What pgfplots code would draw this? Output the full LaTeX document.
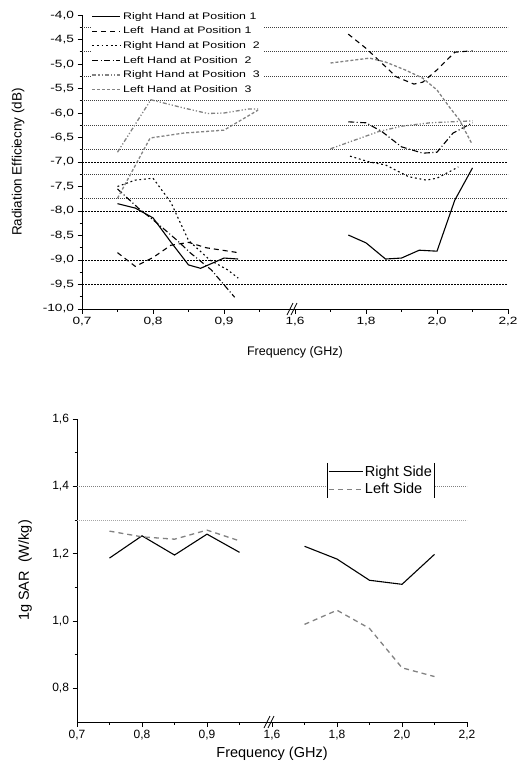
\documentclass[border=0pt]{standalone}
\usepackage{fontspec}
\setmainfont{Liberation Sans}
\newfontfamily\widefont[FakeStretch=1.3]{Liberation Sans}
\usepackage{pgfplots}
\pgfplotsset{compat=1.18}
\definecolor{lgray}{RGB}{130,130,130}

\pgfplotsset{
  brk/.style={
    scale only axis,
    clip=false,
    unbounded coords=jump,
    x coord trafo/.code={\pgfmathparse{ifthenelse(##1<1.3,(##1-0.7)*10,3+(##1-1.6)*5)}},
    xmin=0.7, xmax=2.2,
    xtick={0.7,0.8,0.9,1.6,1.8,2.0,2.2},
    xticklabels={{0,7},{0,8},{0,9},{1,6},{1,8},{2,0},{2,2}},
    minor xtick={0.75,0.85,0.95,1.7,1.9,2.1},
    axis x line*=bottom, axis y line*=left,
    tick align=outside,
    major tick length=4.5pt, minor tick length=2.5pt,
    every tick/.style={black, line width=0.8pt},
    axis line style={line width=0.8pt},
    yticklabel style={/pgf/number format/.cd, fixed, fixed zerofill, precision=1, use comma, assume math mode=true},
    legend cell align=left,
    legend image code/.code={\draw[##1] (0pt,0pt) -- (28pt,0pt);},
  },
}
\tikzset{brkmark/.style={line width=0.8pt}}

\begin{document}
\begin{tikzpicture}
\path[use as bounding box] (0pt,0pt) rectangle (517pt,-771pt);

% ---------------- radiation efficiency ----------------
\begin{axis}[brk,
    at={(82pt,-309pt)}, anchor=south west,
    width=426pt, height=294pt,
    ymin=-10, ymax=-4,
    ytick={-10,-9.5,-9,-8.5,-8,-7.5,-7,-6.5,-6,-5.5,-5,-4.5,-4},
    minor y tick num=1,
    tick label style={font=\widefont\fontsize{10.5}{12}\selectfont},
    xlabel={Frequency (GHz)},
    ylabel={Radiation Efficiecny (dB)},
    label style={font=\fontsize{12.5}{14}\selectfont},
    ylabel style={font=\fontsize{13.5}{15}\selectfont},
    xlabel style={at={(axis description cs:0.5,-0.146)}, anchor=center},
    ylabel style={at={(axis description cs:-0.150,0.5)}, anchor=center},
    legend style={at={(rel axis cs:0.02,1.02)}, anchor=north west, draw=none, fill=white,
      font=\widefont\fontsize{9.5}{11}\selectfont, inner sep=1pt, row sep=1.8pt, nodes={inner sep=2.2pt}},
  ]
  \pgfplotsinvokeforeach{-4.25,-4.75,-5.25,-5.75,-6.25,-6.75,-7.25,-7.75}{
    \draw[black!75, line width=0.6pt, dash pattern=on 0.8pt off 1.2pt] (axis cs:0.7,#1) -- (axis cs:2.2,#1);}
  \pgfplotsinvokeforeach{-7,-8,-9,-9.5}{
    \draw[black, line width=0.6pt, dash pattern=on 1.5pt off 1.5pt] (axis cs:0.7,#1) -- (axis cs:2.2,#1);}

  \addplot[black, line width=1.1pt] coordinates {
    (0.75,-7.85) (0.775,-7.94) (0.80,-8.14) (0.825,-8.63) (0.85,-9.10) (0.867,-9.17) (0.90,-8.96) (0.92,-8.98)
    (1.3,nan)
    (1.75,-8.49) (1.80,-8.65) (1.855,-8.98) (1.90,-8.96) (1.95,-8.80) (2.00,-8.82) (2.05,-7.78) (2.10,-7.12)};
  \addlegendentry{Right Hand at Position 1}
  \addplot[black, line width=1.1pt, dash pattern=on 5pt off 4pt] coordinates {
    (0.75,-8.85) (0.775,-9.13) (0.80,-8.95) (0.825,-8.70) (0.85,-8.64) (0.875,-8.75) (0.92,-8.85)
    (1.3,nan)
    (1.75,-4.39) (1.80,-4.68) (1.85,-5.02) (1.885,-5.26) (1.935,-5.41) (1.96,-5.37) (2.00,-5.12) (2.05,-4.76) (2.10,-4.73)};
  \addlegendentry{Left\ \ Hand at Position 1}
  \addplot[black, line width=1.1pt, dash pattern=on 1.8pt off 2.8pt] coordinates {
    (0.75,-7.50) (0.775,-7.37) (0.80,-7.33) (0.825,-7.82) (0.85,-8.60) (0.88,-9.00) (0.905,-9.20) (0.92,-9.37)
    (1.3,nan)
    (1.755,-6.88) (1.81,-7.00) (1.855,-7.06) (1.92,-7.30) (1.97,-7.37) (2.00,-7.33) (2.045,-7.16) (2.06,-7.10)};
  \addlegendentry{Right Hand at Position\ \ 2}
  \addplot[black, line width=1.1pt, dash pattern=on 6pt off 2.5pt on 1pt off 2.5pt] coordinates {
    (0.75,-7.55) (0.78,-7.95) (0.806,-8.25) (0.834,-8.60) (0.853,-8.86) (0.882,-9.20) (0.915,-9.76)
    (1.3,nan)
    (1.75,-6.18) (1.80,-6.20) (1.845,-6.38) (1.90,-6.69) (1.96,-6.82) (2.00,-6.80) (2.045,-6.41) (2.10,-6.20)};
  \addlegendentry{Left Hand at Position\ \ 2}
  \addplot[lgray, line width=1.3pt, dash pattern=on 4pt off 2pt on 1.2pt off 2pt on 1.2pt off 2pt] coordinates {
    (0.75,-6.80) (0.797,-5.73) (0.844,-5.90) (0.877,-6.01) (0.90,-6.00) (0.934,-5.92) (0.948,-5.92)
    (1.3,nan)
    (1.70,-6.73) (1.835,-6.38) (1.90,-6.27) (1.98,-6.20) (2.10,-6.16)};
  \addlegendentry{Right Hand at Position\ \ 3}
  \addplot[lgray, line width=1.3pt, dash pattern=on 3pt off 2pt] coordinates {
    (0.75,-7.74) (0.796,-6.51) (0.843,-6.41) (0.90,-6.35) (0.948,-5.94)
    (1.3,nan)
    (1.70,-4.98) (1.81,-4.88) (1.855,-4.96) (1.91,-5.12) (1.96,-5.29) (2.00,-5.53) (2.035,-5.88) (2.063,-6.14) (2.097,-6.61)};
  \addlegendentry{Left Hand at Position\ \ 3}

  \draw[brkmark] ([xshift=-8pt,yshift=-6pt]rel axis cs:0.5,0) -- ([xshift=-2pt,yshift=6pt]rel axis cs:0.5,0);
  \draw[brkmark] ([xshift=-4pt,yshift=-6pt]rel axis cs:0.5,0) -- ([xshift=2pt,yshift=6pt]rel axis cs:0.5,0);
\end{axis}

% ---------------- 1g SAR ----------------
\begin{axis}[brk,
    at={(77pt,-722pt)}, anchor=south west,
    width=390pt, height=303pt,
    ymin=0.7, ymax=1.6,
    ytick={0.8,1.0,1.2,1.4,1.6},
    minor ytick={0.9,1.1,1.3,1.5},
    tick label style={font=\fontsize{12}{13}\selectfont},
    xlabel={Frequency (GHz)},
    ylabel={1g SAR\ \ (W/kg)},
    label style={font=\fontsize{14.5}{16}\selectfont},
    xlabel style={at={(axis description cs:0.5,-0.106)}, anchor=center},
    ylabel style={at={(axis description cs:-0.133,0.5)}, anchor=center},
    legend image code/.code={\draw[#1] (0pt,0pt) -- (34pt,0pt);},
    legend style={at={(rel axis cs:0.641,0.855)}, anchor=north west, draw=none, fill=white,
      font=\fontsize{14.5}{16}\selectfont, inner sep=1pt, row sep=2.5pt, nodes={inner sep=1.5pt}, name=sarleg},
  ]
  \draw[black!50, line width=0.6pt, dash pattern=on 0.8pt off 1.2pt] (axis cs:0.7,1.4) -- (axis cs:2.2,1.4);
  \draw[black!35, line width=0.6pt, dash pattern=on 0.8pt off 1.2pt] (axis cs:0.7,1.3) -- (axis cs:2.2,1.3);

  \addplot[black, line width=1.1pt] coordinates {
    (0.75,1.187) (0.80,1.253) (0.85,1.196) (0.90,1.258) (0.95,1.204)
    (1.3,nan)
    (1.70,1.222) (1.80,1.184) (1.90,1.121) (2.00,1.109) (2.10,1.198)};
  \addlegendentry{Right Side}
  \addplot[lgray, line width=1.3pt, dash pattern=on 5pt off 4pt] coordinates {
    (0.75,1.267) (0.80,1.250) (0.85,1.243) (0.90,1.270) (0.95,1.238)
    (1.3,nan)
    (1.70,0.990) (1.80,1.032) (1.90,0.978) (2.00,0.861) (2.10,0.835)};
  \addlegendentry{Left Side}

  \draw[brkmark] ([xshift=-8pt,yshift=-6pt]rel axis cs:0.5,0) -- ([xshift=-2pt,yshift=6pt]rel axis cs:0.5,0);
  \draw[brkmark] ([xshift=-4pt,yshift=-6pt]rel axis cs:0.5,0) -- ([xshift=2pt,yshift=6pt]rel axis cs:0.5,0);
\end{axis}
\draw[line width=0.8pt] (sarleg.north west) -- (sarleg.south west);
\draw[line width=0.8pt] (sarleg.north east) -- (sarleg.south east);
\end{tikzpicture}
\end{document}
